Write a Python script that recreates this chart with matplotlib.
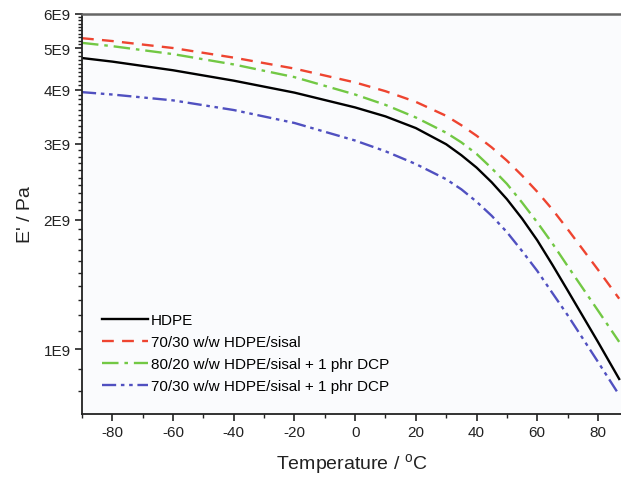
import numpy as np
import matplotlib
matplotlib.use("Agg")
import matplotlib.pyplot as plt
from matplotlib.ticker import FixedLocator, MultipleLocator, NullFormatter

plt.rcParams["font.family"] = ["Liberation Sans", "DejaVu Sans"]
plt.rcParams["axes.unicode_minus"] = False

# Temperature (degC) and storage modulus E' (units of 1E9 Pa)
temperature = [-90, -80, -60, -40, -20, 0, 10, 20, 30, 35, 40, 45, 50, 55, 60, 65, 70, 80, 87]

hdpe = [4.74, 4.65, 4.44, 4.20, 3.94, 3.64, 3.47, 3.26, 2.99, 2.82, 2.64, 2.44,
        2.23, 2.01, 1.79, 1.57, 1.37, 1.04, 0.853]
hdpe_sisal_7030 = [5.27, 5.19, 5.00, 4.75, 4.48, 4.16, 3.97, 3.75, 3.48, 3.31, 3.13, 2.94,
                   2.74, 2.53, 2.32, 2.11, 1.90, 1.53, 1.31]
hdpe_sisal_8020_dcp = [5.14, 5.05, 4.84, 4.58, 4.28, 3.90, 3.69, 3.45, 3.18, 3.02, 2.84, 2.63,
                       2.42, 2.19, 1.97, 1.76, 1.56, 1.23, 1.04]
hdpe_sisal_7030_dcp = [3.95, 3.90, 3.78, 3.59, 3.35, 3.05, 2.88, 2.69, 2.48, 2.35, 2.20, 2.04,
                       1.87, 1.69, 1.52, 1.35, 1.20, 0.935, 0.783]

labels = [
    "HDPE",
    "70/30 w/w HDPE/sisal",
    "80/20 w/w HDPE/sisal + 1 phr DCP",
    "70/30 w/w HDPE/sisal + 1 phr DCP",
]
y_ticks = [1, 2, 3, 4, 5, 6]
y_tick_labels = ["1E9", "2E9", "3E9", "4E9", "5E9", "6E9"]


def generate_chart():

    fig = plt.figure(figsize=(6.21, 4.81), dpi=100)
    ax = fig.add_axes([0.132, 0.137, 0.868, 0.832])
    ax.set_facecolor("#fafbfd")

    t = np.array(temperature)
    scale = 1e9

    ax.plot(t, np.array(hdpe) * scale, color="black", lw=1.7,
            linestyle="-", label=labels[0])
    ax.plot(t, np.array(hdpe_sisal_7030) * scale, color="#ee4430", lw=1.7,
            linestyle=(0, (5, 3.5)), label=labels[1])
    ax.plot(t, np.array(hdpe_sisal_8020_dcp) * scale, color="#72c844", lw=1.7,
            linestyle=(0, (7, 2.5, 1.5, 2.5)), label=labels[2])
    ax.plot(t, np.array(hdpe_sisal_7030_dcp) * scale, color="#5050c0", lw=1.7,
            linestyle=(0, (6, 2, 1.5, 2, 1.5, 2)), label=labels[3])

    ax.set_yscale("log")
    ax.set_ylim(0.707e9, 6e9)
    ax.set_xlim(-90, 87.6)

    ax.yaxis.set_major_locator(FixedLocator([v * scale for v in y_ticks]))
    ax.set_yticklabels(y_tick_labels)
    ax.yaxis.set_minor_locator(FixedLocator(np.arange(7, 61) * 1e8))
    ax.yaxis.set_minor_formatter(NullFormatter())

    ax.xaxis.set_major_locator(MultipleLocator(20))
    ax.xaxis.set_minor_locator(MultipleLocator(10))

    ax.tick_params(which="major", direction="out", length=5, width=1.2,
                   labelsize=11, colors="#222222", pad=3)
    ax.tick_params(which="minor", direction="out", length=3, width=1.0,
                   colors="#222222")
    ax.tick_params(axis="x", which="both", top=False)
    ax.tick_params(axis="y", which="both", right=False)

    ax.spines["right"].set_visible(False)
    ax.spines["top"].set_color("#666666")
    ax.spines["top"].set_linewidth(1.8)
    for side in ["left", "bottom"]:
        ax.spines[side].set_linewidth(1.3)
        ax.spines[side].set_color("#222222")

    ax.set_xlabel("Temperature / $^\\mathregular{o}$C", fontsize=14,
                  color="#222222", labelpad=9)
    ax.set_ylabel("E' / Pa", fontsize=14, color="#222222", labelpad=7)

    ax.legend(loc="lower left", bbox_to_anchor=(0.02, 0.03), frameon=False,
              fontsize=11, handlelength=3.0, handletextpad=0.2,
              labelspacing=0.52, borderaxespad=0.2)

    fig.savefig("out.png", dpi=100)


if __name__ == "__main__":

    generate_chart()
